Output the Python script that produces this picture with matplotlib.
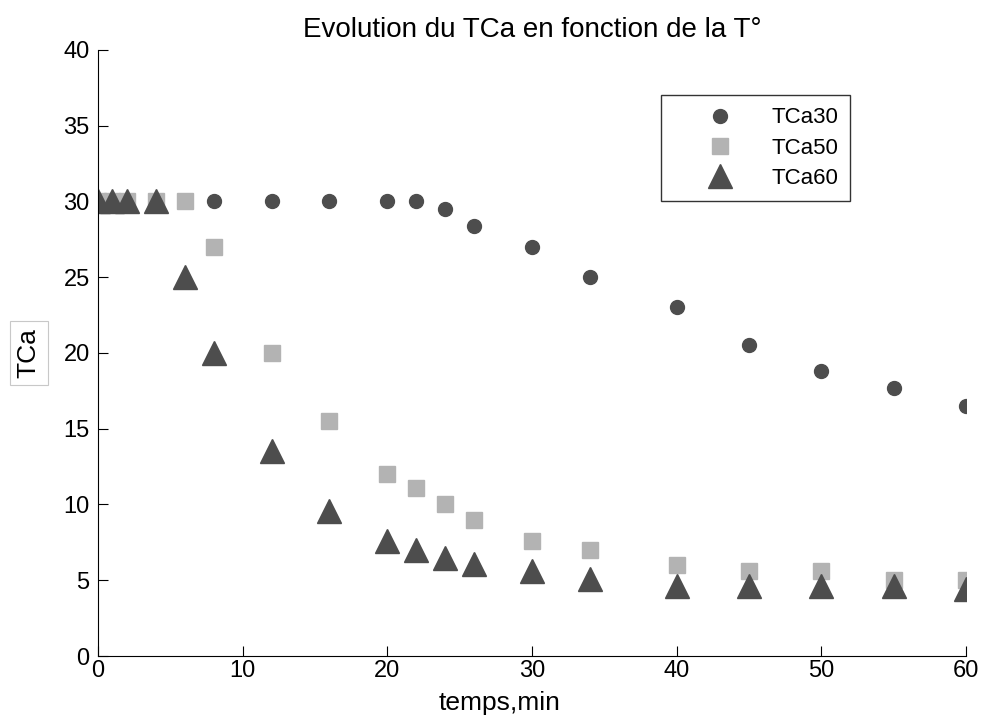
import matplotlib
matplotlib.use("Agg")
import matplotlib.pyplot as plt

plt.rcParams['font.family'] = ['Liberation Sans', 'DejaVu Sans']

# time (min)
t = [0, 1, 2, 4, 6, 8, 12, 16, 20, 22, 24, 26, 30, 34, 40, 45, 50, 55, 60]
t30 = [0, 1, 2, 4, 8, 12, 16, 20, 22, 24, 26, 30, 34, 40, 45, 50, 55, 60]

tca30 = [30, 30, 30, 30, 30, 30, 30, 30, 30, 29.5, 28.4, 27.0, 25.0, 23.0, 20.5, 18.8, 17.7, 16.5]
tca50 = [30, 30, 30, 30, 30, 27.0, 20.0, 15.5, 12.0, 11.1, 10.0, 9.0, 7.6, 7.0, 6.0, 5.6, 5.6, 5.0, 5.0]
tca60 = [30, 30, 30, 30, 25.0, 20.0, 13.5, 9.6, 7.6, 7.0, 6.5, 6.1, 5.6, 5.1, 4.6, 4.6, 4.6, 4.6, 4.4]

dark = '#4d4d4d'
light = '#b3b3b3'

fig = plt.figure(figsize=(9.83, 7.26), dpi=100)
ax = fig.add_axes([0.0997, 0.0964, 0.883, 0.835])

ax.plot(t30, tca30, 'o', color=dark, ms=10, mec=dark, label='TCa30')
ax.plot(t, tca50, 's', color=light, ms=12, mec=light, label='TCa50')
ax.plot(t, tca60, '^', color=dark, ms=17, mec=dark, label='TCa60')

ax.set_xlim(0, 60)
ax.set_ylim(0, 40)
ax.set_xticks(range(0, 61, 10))
ax.set_yticks(range(0, 41, 5))
ax.spines['top'].set_visible(False)
ax.spines['right'].set_visible(False)
ax.tick_params(direction='in', length=7, labelsize=17, pad=3)
ax.tick_params(axis='y', pad=6)

ax.set_title('Evolution du TCa en fonction de la T°', fontsize=20, pad=9)
ax.set_xlabel('temps,min', fontsize=19)
ax.xaxis.set_label_coords(0.463, -0.057)
ax.set_ylabel('TCa', fontsize=19,
              bbox=dict(facecolor='white', edgecolor='#c8c8c8', lw=0.8, pad=5))
ax.yaxis.set_label_coords(-0.066, 0.5)

leg = ax.legend(loc='upper left', bbox_to_anchor=(0.649, 0.925), fontsize=16,
                frameon=True, fancybox=False, edgecolor='black',
                handletextpad=0.2, borderpad=0.55, labelspacing=0.42,
                handlelength=4.2, borderaxespad=0)
leg.get_frame().set_linewidth(1.0)

fig.savefig('out.png', dpi=100)
